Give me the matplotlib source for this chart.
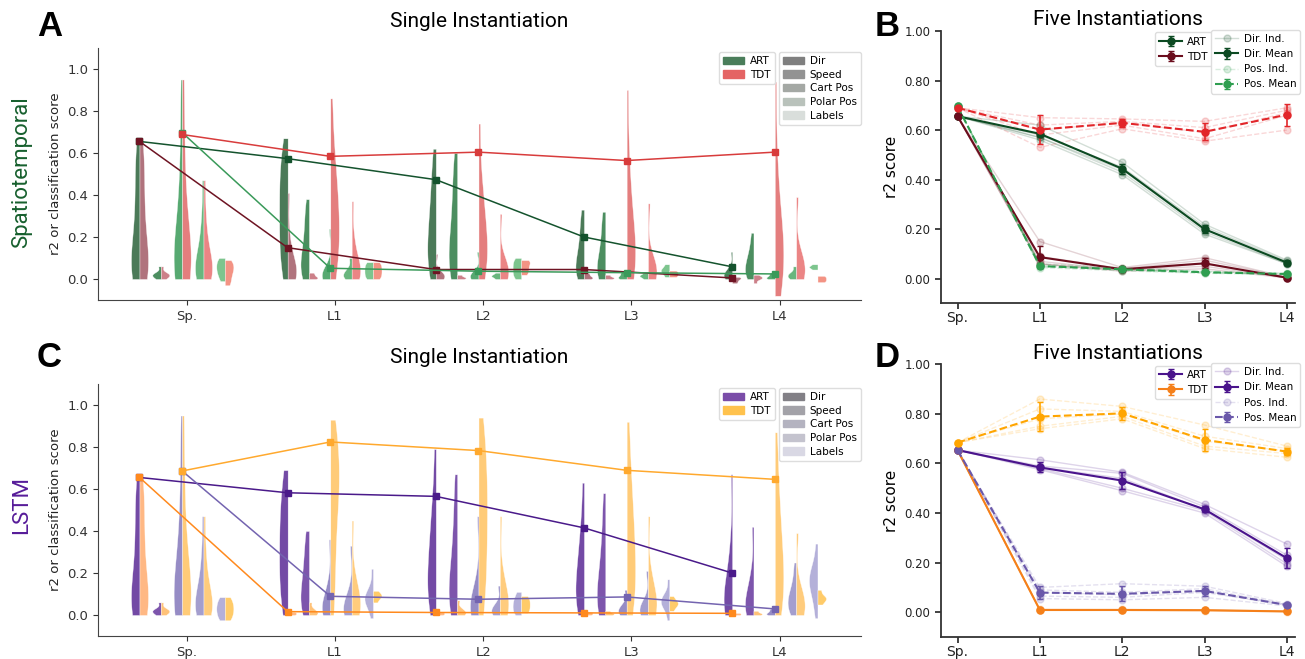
import numpy as np
import matplotlib
matplotlib.use('Agg')
import matplotlib.pyplot as plt
from matplotlib.patches import Patch

layers = ['Sp.', 'L1', 'L2', 'L3', 'L4']
tasks = ['Dir', 'Speed', 'Cart Pos', 'Polar Pos', 'Labels']

# ---- single instantiation: per-unit score samples, one list per layer ----
sp_dir = [0.0, 0.01, 0.03, 0.05, 0.08, 0.12, 0.18, 0.25, 0.33, 0.42, 0.5, 0.58, 0.66]
sp_speed = [0.0, 0.01, 0.02, 0.02, 0.03, 0.06]
sp_cart = [0.0, 0.01, 0.03, 0.05, 0.08, 0.12, 0.18, 0.25, 0.35, 0.5, 0.7, 0.95]
sp_polar = [0.0, 0.01, 0.02, 0.04, 0.06, 0.09, 0.13, 0.2, 0.3, 0.47]

st_art_dir = [sp_dir,
              [0.0, 0.05, 0.1, 0.15, 0.2, 0.25, 0.3, 0.35, 0.4, 0.45, 0.5, 0.55, 0.6, 0.67],
              [0.0, 0.03, 0.06, 0.1, 0.14, 0.18, 0.22, 0.27, 0.32, 0.38, 0.45, 0.53, 0.62],
              [0.0, 0.01, 0.03, 0.05, 0.07, 0.1, 0.13, 0.17, 0.22, 0.27, 0.33],
              [0.0, 0.005, 0.01, 0.015, 0.02, 0.03, 0.04, 0.06, 0.13]]
st_art_speed = [sp_speed,
                [0.0, 0.02, 0.04, 0.07, 0.1, 0.14, 0.19, 0.25, 0.31, 0.38],
                [0.0, 0.03, 0.06, 0.1, 0.15, 0.2, 0.26, 0.33, 0.42, 0.5, 0.6],
                [0.0, 0.01, 0.03, 0.05, 0.08, 0.11, 0.15, 0.2, 0.26, 0.32],
                [0.0, 0.01, 0.03, 0.05, 0.07, 0.09, 0.12, 0.16, 0.22]]
st_art_cart = [sp_cart,
               [0.0, 0.005, 0.01, 0.015, 0.02, 0.03, 0.05, 0.24],
               [0.0, 0.005, 0.01, 0.015, 0.02, 0.03, 0.13],
               [0.0, 0.005, 0.01, 0.02, 0.03, 0.04],
               [0.0, 0.005, 0.01, 0.02, 0.03]]
st_art_polar = [sp_polar,
                [0.0, 0.01, 0.02, 0.03, 0.05, 0.1],
                [0.0, 0.01, 0.015, 0.02, 0.03],
                [0.0, 0.01, 0.015, 0.02, 0.03],
                [0.0, 0.01, 0.02, 0.03, 0.06]]
st_art_labels = [[-0.01, 0.02, 0.04, 0.06, 0.08, 0.1],
                 [0.0, 0.02, 0.04, 0.06, 0.08],
                 [0.0, 0.02, 0.04, 0.06, 0.08, 0.1],
                 [0.01, 0.03, 0.04, 0.05, 0.07],
                 [0.045, 0.055, 0.06, 0.07]]

st_tdt_dir = [sp_dir,
              [0.0, 0.01, 0.02, 0.03, 0.04, 0.06, 0.1, 0.2, 0.41],
              [0.0, 0.005, 0.01, 0.015, 0.02, 0.03, 0.12],
              [0.0, 0.005, 0.01, 0.02, 0.03],
              [-0.02, -0.01, 0.0, 0.005, 0.01]]
st_tdt_speed = [sp_speed,
                [0.0, 0.005, 0.01, 0.02, 0.03],
                [0.0, 0.005, 0.01, 0.02],
                [0.0, 0.005, 0.01, 0.02],
                [-0.02, 0.0, 0.005, 0.01, 0.02]]
st_tdt_cart = [sp_cart,
               [0.0, 0.05, 0.1, 0.15, 0.2, 0.25, 0.3, 0.35, 0.4, 0.47, 0.55, 0.65, 0.86],
               [0.0, 0.03, 0.06, 0.1, 0.14, 0.18, 0.22, 0.27, 0.33, 0.4, 0.5, 0.74],
               [0.0, 0.02, 0.05, 0.08, 0.12, 0.16, 0.21, 0.27, 0.35, 0.45, 0.6, 0.9],
               [-0.08, -0.02, 0.02, 0.06, 0.1, 0.14, 0.19, 0.25, 0.32, 0.42, 0.6, 0.94]]
st_tdt_polar = [sp_polar,
                [0.0, 0.01, 0.02, 0.03, 0.05, 0.08, 0.12, 0.2, 0.37],
                [0.0, 0.01, 0.02, 0.04, 0.06, 0.1, 0.31],
                [0.0, 0.01, 0.02, 0.04, 0.06, 0.1, 0.36],
                [0.0, 0.01, 0.03, 0.05, 0.08, 0.12, 0.39]]
st_tdt_labels = [[-0.03, 0.0, 0.03, 0.05, 0.07, 0.09],
                 [0.0, 0.02, 0.04, 0.06, 0.08],
                 [0.02, 0.04, 0.06, 0.08, 0.09],
                 [0.01, 0.02, 0.03, 0.04],
                 [-0.015, -0.005, 0.005, 0.015]]

ls_art_dir = [sp_dir,
              [0.0, 0.05, 0.1, 0.15, 0.2, 0.25, 0.3, 0.35, 0.4, 0.45, 0.5, 0.56, 0.62, 0.69],
              [0.0, 0.04, 0.08, 0.12, 0.17, 0.22, 0.27, 0.33, 0.4, 0.48, 0.58, 0.79],
              [0.0, 0.03, 0.06, 0.1, 0.14, 0.18, 0.23, 0.29, 0.36, 0.45, 0.63],
              [0.0, 0.01, 0.03, 0.05, 0.08, 0.11, 0.15, 0.22, 0.35, 0.67]]
ls_art_speed = [sp_speed,
                [0.0, 0.03, 0.06, 0.1, 0.14, 0.19, 0.25, 0.32, 0.4],
                [0.0, 0.03, 0.07, 0.11, 0.16, 0.22, 0.3, 0.4, 0.52, 0.67],
                [0.0, 0.02, 0.05, 0.09, 0.13, 0.18, 0.25, 0.33, 0.44, 0.58],
                [0.0, 0.01, 0.03, 0.05, 0.08, 0.12, 0.2, 0.42]]
ls_art_cart = [sp_cart,
               [0.0, 0.01, 0.02, 0.03, 0.05, 0.08, 0.15, 0.36],
               [0.0, 0.01, 0.02, 0.03, 0.05, 0.08, 0.15, 0.47],
               [0.0, 0.01, 0.02, 0.03, 0.05, 0.12],
               [0.0, 0.005, 0.01, 0.02, 0.03]]
ls_art_polar = [sp_polar,
                [0.0, 0.01, 0.02, 0.03, 0.05, 0.1, 0.33],
                [0.0, 0.01, 0.02, 0.03, 0.05, 0.14],
                [0.0, 0.01, 0.02, 0.04, 0.06, 0.21],
                [0.0, 0.02, 0.04, 0.06, 0.08, 0.1, 0.13, 0.18, 0.25]]
ls_art_labels = [[-0.025, 0.0, 0.02, 0.04, 0.06, 0.085],
                 [-0.015, 0.03, 0.06, 0.07, 0.08, 0.09, 0.1, 0.14, 0.22],
                 [0.0, 0.02, 0.04, 0.06, 0.08, 0.11],
                 [-0.025, 0.03, 0.05, 0.06, 0.07, 0.08, 0.1, 0.17],
                 [-0.015, 0.05, 0.1, 0.13, 0.15, 0.17, 0.19, 0.21, 0.25, 0.34]]

ls_tdt_dir = [sp_dir,
              [0.0, 0.005, 0.01, 0.015],
              [0.0, 0.005, 0.01, 0.015],
              [0.0, 0.005, 0.01, 0.015],
              [0.0, 0.005, 0.01]]
ls_tdt_speed = [sp_speed,
                [0.0, 0.005, 0.01, 0.02, 0.03, 0.06],
                [0.0, 0.005, 0.01, 0.02, 0.03, 0.07],
                [0.0, 0.005, 0.01, 0.02],
                [0.0, 0.005, 0.01, 0.02]]
ls_tdt_cart = [sp_cart,
               [0.0, 0.1, 0.2, 0.3, 0.4, 0.5, 0.55, 0.6, 0.65, 0.7, 0.75, 0.8, 0.86, 0.93],
               [0.0, 0.08, 0.16, 0.24, 0.32, 0.4, 0.47, 0.54, 0.61, 0.68, 0.76, 0.85, 0.94],
               [0.0, 0.05, 0.1, 0.16, 0.22, 0.28, 0.35, 0.42, 0.5, 0.6, 0.72, 0.92],
               [0.0, 0.04, 0.08, 0.13, 0.18, 0.24, 0.3, 0.37, 0.45, 0.55, 0.68, 0.87]]
ls_tdt_polar = [sp_polar,
                [0.0, 0.01, 0.03, 0.05, 0.08, 0.12, 0.2, 0.45],
                [0.0, 0.01, 0.03, 0.05, 0.08, 0.12, 0.2, 0.47],
                [0.0, 0.01, 0.03, 0.05, 0.08, 0.12, 0.2, 0.47],
                [0.0, 0.01, 0.03, 0.05, 0.08, 0.13, 0.39]]
ls_tdt_labels = [[-0.025, 0.0, 0.02, 0.04, 0.06, 0.085],
                 [0.06, 0.08, 0.09, 0.1, 0.115],
                 [0.01, 0.03, 0.05, 0.07, 0.09],
                 [0.02, 0.04, 0.05, 0.06, 0.07, 0.09],
                 [0.05, 0.07, 0.08, 0.09, 0.12]]

# ---- single instantiation: median lines (Dir and Cart Pos) ----
st_line_art_dir = [0.655, 0.573, 0.473, 0.200, 0.058]
st_line_tdt_dir = [0.655, 0.149, 0.045, 0.045, 0.005]
st_line_art_pos = [0.697, 0.051, 0.037, 0.030, 0.024]
st_line_tdt_pos = [0.688, 0.584, 0.604, 0.564, 0.604]
ls_line_art_dir = [0.655, 0.582, 0.565, 0.415, 0.200]
ls_line_tdt_dir = [0.655, 0.016, 0.012, 0.010, 0.008]
ls_line_art_pos = [0.686, 0.089, 0.075, 0.086, 0.029]
ls_line_tdt_pos = [0.686, 0.824, 0.783, 0.689, 0.646]

# ---- five instantiations ----
st5_art_dir_ind = [[0.656, 0.62, 0.47, 0.22, 0.075], [0.656, 0.58, 0.45, 0.21, 0.07],
                   [0.656, 0.57, 0.44, 0.20, 0.065], [0.656, 0.57, 0.43, 0.19, 0.06],
                   [0.656, 0.56, 0.42, 0.18, 0.06]]
st5_tdt_dir_ind = [[0.656, 0.15, 0.045, 0.085, 0.006], [0.656, 0.09, 0.04, 0.075, 0.005],
                   [0.656, 0.07, 0.035, 0.06, 0.004], [0.656, 0.06, 0.035, 0.05, 0.004],
                   [0.656, 0.06, 0.03, 0.04, 0.003]]
st5_art_pos_ind = [[0.696, 0.06, 0.045, 0.03, 0.022], [0.696, 0.055, 0.04, 0.028, 0.02],
                   [0.696, 0.05, 0.038, 0.026, 0.019], [0.696, 0.05, 0.035, 0.024, 0.018],
                   [0.696, 0.045, 0.032, 0.022, 0.017]]
st5_tdt_pos_ind = [[0.69, 0.65, 0.645, 0.635, 0.69], [0.69, 0.62, 0.635, 0.61, 0.68],
                   [0.69, 0.60, 0.63, 0.59, 0.67], [0.69, 0.58, 0.62, 0.565, 0.66],
                   [0.69, 0.53, 0.605, 0.555, 0.60]]
st5_art_dir_mean = [0.656, 0.585, 0.444, 0.200, 0.065]
st5_art_dir_err = [0.0, 0.015, 0.02, 0.015, 0.008]
st5_tdt_dir_mean = [0.656, 0.087, 0.038, 0.062, 0.004]
st5_tdt_dir_err = [0.0, 0.045, 0.008, 0.02, 0.003]
st5_art_pos_mean = [0.696, 0.051, 0.038, 0.026, 0.019]
st5_art_pos_err = [0.005, 0.005, 0.005, 0.004, 0.003]
st5_tdt_pos_mean = [0.690, 0.602, 0.629, 0.593, 0.662]
st5_tdt_pos_err = [0.008, 0.06, 0.015, 0.035, 0.045]

ls5_art_dir_ind = [[0.654, 0.615, 0.565, 0.435, 0.275], [0.654, 0.59, 0.56, 0.425, 0.23],
                   [0.654, 0.585, 0.54, 0.415, 0.21], [0.654, 0.58, 0.50, 0.41, 0.195],
                   [0.654, 0.575, 0.49, 0.40, 0.185]]
ls5_tdt_dir_ind = [[0.654, 0.012, 0.011, 0.01, 0.005], [0.654, 0.01, 0.01, 0.009, 0.004],
                   [0.654, 0.009, 0.009, 0.008, 0.003], [0.654, 0.008, 0.008, 0.007, 0.003],
                   [0.654, 0.007, 0.007, 0.006, 0.002]]
ls5_art_pos_ind = [[0.654, 0.10, 0.115, 0.105, 0.035], [0.654, 0.09, 0.08, 0.095, 0.03],
                   [0.654, 0.08, 0.07, 0.085, 0.03], [0.654, 0.065, 0.06, 0.08, 0.028],
                   [0.654, 0.055, 0.05, 0.06, 0.025]]
ls5_tdt_pos_ind = [[0.684, 0.86, 0.83, 0.755, 0.67], [0.684, 0.82, 0.81, 0.71, 0.66],
                   [0.684, 0.78, 0.80, 0.69, 0.65], [0.684, 0.75, 0.79, 0.67, 0.64],
                   [0.684, 0.74, 0.78, 0.66, 0.625]]
ls5_art_dir_mean = [0.654, 0.584, 0.531, 0.415, 0.218]
ls5_art_dir_err = [0.0, 0.02, 0.035, 0.012, 0.04]
ls5_tdt_dir_mean = [0.654, 0.009, 0.009, 0.008, 0.003]
ls5_tdt_dir_err = [0.0, 0.002, 0.002, 0.002, 0.002]
ls5_art_pos_mean = [0.654, 0.079, 0.074, 0.086, 0.029]
ls5_art_pos_err = [0.0, 0.025, 0.03, 0.02, 0.006]
ls5_tdt_pos_mean = [0.684, 0.789, 0.802, 0.695, 0.648]
ls5_tdt_pos_err = [0.005, 0.06, 0.025, 0.045, 0.015]

offsets = [-0.32, -0.176, -0.032, 0.112, 0.256]
x = np.arange(len(layers))

fig = plt.figure(figsize=(13.05, 6.59), dpi=100)
axA = fig.add_axes([0.0751, 0.5448, 0.5847, 0.3824])
axC = fig.add_axes([0.0751, 0.0349, 0.5847, 0.3824])
axB = fig.add_axes([0.7211, 0.5395, 0.2713, 0.4135])
axD = fig.add_axes([0.7211, 0.0334, 0.2713, 0.4138])


def violins(ax, art_sets, tdt_sets, art_cols, tdt_cols):
    for j in range(5):
        pos = x + offsets[j]
        for data, side, col in ((art_sets[j], 'low', art_cols[j]),
                                (tdt_sets[j], 'high', tdt_cols[j])):
            parts = ax.violinplot(data, positions=pos, widths=0.115, showextrema=False,
                                  side=side, bw_method=0.55, points=200)
            for b in parts['bodies']:
                b.set_facecolor(col)
                b.set_edgecolor('white')
                b.set_linewidth(0.3)
                b.set_alpha(0.85)


def single_panel(ax, art_sets, tdt_sets, art_cols, tdt_cols, lines, line_cols,
                 leg_cols, gray_cols):
    violins(ax, art_sets, tdt_sets, art_cols, tdt_cols)
    for vals, off, col in zip(lines, [0, 0, 2, 2], line_cols):
        ax.plot(x + offsets[off], vals, color=col, marker='s', ms=4, lw=1.1, zorder=5)
    ax.set_xlim(-0.6, 4.55)
    ax.set_ylim(-0.1, 1.1)
    ax.set_xticks(x)
    ax.set_xticklabels(layers)
    ax.set_yticks([0, 0.2, 0.4, 0.6, 0.8, 1.0])
    ax.tick_params(labelsize=9.5, colors='#333333')
    ax.set_ylabel('r2 or classification score', fontsize=9.5, color='#222222')
    for s in ['top', 'right']:
        ax.spines[s].set_visible(False)
    for s in ['left', 'bottom']:
        ax.spines[s].set_color('#444444')
    ax.set_title('Single Instantiation', fontsize=15, family='Roboto', pad=15)
    h1 = [Patch(color=leg_cols[0], label='ART'), Patch(color=leg_cols[1], label='TDT')]
    l1 = ax.legend(handles=h1, loc='upper right', bbox_to_anchor=(0.887, 0.985),
                   fontsize=7.5, handlelength=2.0, handletextpad=0.6, borderaxespad=0,
                   framealpha=1, edgecolor='#dddddd', labelspacing=0.35)
    ax.add_artist(l1)
    h2 = [Patch(color=c, label=t) for c, t in zip(gray_cols, tasks)]
    ax.legend(handles=h2, loc='upper right', bbox_to_anchor=(1.0, 0.985),
              fontsize=7.5, handlelength=2.0, handletextpad=0.6, borderaxespad=0,
              framealpha=1, edgecolor='#dddddd', labelspacing=0.35)


def five_panel(ax, inds, means, errs, cols):
    styles = ['-', '-', '--', '--']
    ind_handles = []
    for k in range(4):
        for row in inds[k]:
            ln, = ax.plot(x, row, color=cols[k], ls=styles[k], marker='o', ms=5,
                          lw=1, alpha=0.18, zorder=2)
        ind_handles.append(ln)
    mean_handles = []
    for k in range(4):
        c = ax.errorbar(x, means[k], yerr=errs[k], color=cols[k], ls=styles[k],
                        marker='o', ms=5, lw=1.5, capsize=2, elinewidth=1.2, zorder=4)
        mean_handles.append(c)
    ax.set_xlim(-0.2, 4.1)
    ax.set_ylim(-0.1, 1.0)
    ax.set_xticks(x)
    ax.set_xticklabels(layers, fontsize=10)
    ax.set_yticks([0, 0.2, 0.4, 0.6, 0.8, 1.0])
    ax.set_yticklabels(['%.2f' % v for v in [0, 0.2, 0.4, 0.6, 0.8, 1.0]], fontsize=8.5)
    ax.tick_params(width=1.2, length=4, colors='#222222')
    ax.tick_params(axis='x', pad=1.5)
    ax.set_ylabel('r2 score', fontsize=11)
    for s in ['top', 'right']:
        ax.spines[s].set_visible(False)
    for s in ['left', 'bottom']:
        ax.spines[s].set_linewidth(1.3)
        ax.spines[s].set_color('#333333')
    ax.set_title('Five Instantiations', fontsize=15, family='Roboto', pad=4)
    l1 = ax.legend([mean_handles[0], mean_handles[1]], ['ART', 'TDT'], loc='upper right',
                   bbox_to_anchor=(0.765, 0.995), fontsize=7.5, borderaxespad=0,
                   framealpha=1, edgecolor='#dddddd', handlelength=2.2,
                   handletextpad=0.5)
    ax.add_artist(l1)
    ax.legend([ind_handles[0], mean_handles[0], ind_handles[2], mean_handles[2]],
              ['Dir. Ind.', 'Dir. Mean', 'Pos. Ind.', 'Pos. Mean'], loc='upper right',
              bbox_to_anchor=(1.015, 1.005), fontsize=7.5, borderaxespad=0,
              framealpha=1, edgecolor='#dddddd', handlelength=2.2, handletextpad=0.5)


single_panel(axA,
             [st_art_dir, st_art_speed, st_art_cart, st_art_polar, st_art_labels],
             [st_tdt_dir, st_tdt_speed, st_tdt_cart, st_tdt_polar, st_tdt_labels],
             ['#2b633b', '#2c7a44', '#3a9a58', '#4faa68', '#66bb7a'],
             ['#a25a66', '#c46a74', '#e06868', '#e87070', '#f2806f'],
             [st_line_art_dir, st_line_tdt_dir, st_line_art_pos, st_line_tdt_pos],
             ['#14532d', '#6e1423', '#3a9a5a', '#d83c3c'],
             ['#4a7d5a', '#e46464'],
             ['#7f7f7f', '#939393', '#a4a8a4', '#b9c2bb', '#d9dedb'])

single_panel(axC,
             [ls_art_dir, ls_art_speed, ls_art_cart, ls_art_polar, ls_art_labels],
             [ls_tdt_dir, ls_tdt_speed, ls_tdt_cart, ls_tdt_polar, ls_tdt_labels],
             ['#5b2a96', '#66379e', '#8478bb', '#948dc6', '#a7a2d3'],
             ['#ffac6e', '#ffb860', '#ffc261', '#ffc466', '#ffc24f'],
             [ls_line_art_dir, ls_line_tdt_dir, ls_line_art_pos, ls_line_tdt_pos],
             ['#4a1a8a', '#ff8a1e', '#7464b0', '#ffa92e'],
             ['#7a4da8', '#ffc24d'],
             ['#828086', '#a3a2a8', '#b4b3c0', '#c4c3ce', '#d9d8e4'])

five_panel(axB, [st5_art_dir_ind, st5_tdt_dir_ind, st5_art_pos_ind, st5_tdt_pos_ind],
           [st5_art_dir_mean, st5_tdt_dir_mean, st5_art_pos_mean, st5_tdt_pos_mean],
           [st5_art_dir_err, st5_tdt_dir_err, st5_art_pos_err, st5_tdt_pos_err],
           ['#0c4a22', '#6b0d1d', '#2f9e50', '#e2262a'])
five_panel(axD, [ls5_art_dir_ind, ls5_tdt_dir_ind, ls5_art_pos_ind, ls5_tdt_pos_ind],
           [ls5_art_dir_mean, ls5_tdt_dir_mean, ls5_art_pos_mean, ls5_tdt_pos_mean],
           [ls5_art_dir_err, ls5_tdt_dir_err, ls5_art_pos_err, ls5_tdt_pos_err],
           ['#4a148c', '#f5801a', '#6a58aa', '#ffa500'])

# panel letters and row labels
for lab, px, py in [('A', 50, 27), ('B', 887, 27), ('C', 49, 358), ('D', 887, 358)]:
    fig.text(px / 1305, 1 - py / 659, lab, fontsize=25, fontweight='bold',
             family='Liberation Sans', ha='center', va='center')
fig.text(22 / 1305, 1 - 172 / 659, 'Spatiotemporal', rotation=90, fontsize=16,
         color='#17602e', family='Roboto', ha='center', va='center')
fig.text(22 / 1305, 1 - 505 / 659, 'LSTM', rotation=90, fontsize=16,
         color='#571c99', family='Roboto', ha='center', va='center')

fig.savefig('out.png', dpi=100)
